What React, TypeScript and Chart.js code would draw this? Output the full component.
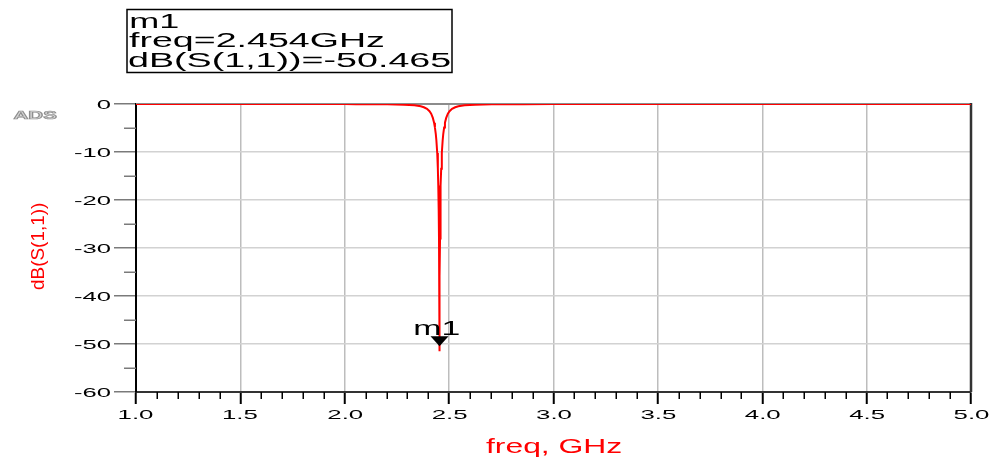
import React, { useEffect, useRef } from "react";
import { Chart, registerables } from "chart.js";

Chart.register(...registerables);

// ---- data ----
const freqGHz = [
  1.0, 1.5, 2.0, 2.054, 2.204, 2.284, 2.334, 2.364, 2.379, 2.394, 2.406, 2.414,
  2.422, 2.428, 2.432, 2.436, 2.439, 2.443, 2.446, 2.448, 2.45, 2.4515, 2.4528,
  2.454, 2.4552, 2.4565, 2.458, 2.46, 2.462, 2.465, 2.469, 2.472, 2.476, 2.48,
  2.486, 2.494, 2.502, 2.514, 2.529, 2.544, 2.574, 2.624, 2.704, 2.854, 3.0,
  3.5, 4.0, 4.5, 5.0,
];
const s11dB = [
  -0.004, -0.006, -0.015, -0.03, -0.07, -0.15, -0.28, -0.48, -0.68, -1.0, -1.5,
  -2.0, -2.9, -3.9, -4.9, -6.2, -7.6, -10.2, -13.5, -17, -22, -28, -36, -51.5,
  -36, -28, -22, -17, -13.5, -10.2, -7.6, -6.2, -4.9, -3.9, -2.9, -2.0, -1.5,
  -1.0, -0.68, -0.48, -0.28, -0.15, -0.07, -0.03, -0.015, -0.008, -0.005,
  -0.004, -0.003,
];

const xTickValues = [1.0, 1.5, 2.0, 2.5, 3.0, 3.5, 4.0, 4.5, 5.0];
const xTickLabels = ["1.0", "1.5", "2.0", "2.5", "3.0", "3.5", "4.0", "4.5", "5.0"];
const xMinorTickValues = [
  1.1, 1.2, 1.3, 1.4, 1.6, 1.7, 1.8, 1.9, 2.1, 2.2, 2.3, 2.4, 2.6, 2.7, 2.8,
  2.9, 3.1, 3.2, 3.3, 3.4, 3.6, 3.7, 3.8, 3.9, 4.1, 4.2, 4.3, 4.4, 4.6, 4.7,
  4.8, 4.9,
];
const yTickValues = [0, -10, -20, -30, -40, -50, -60];
const yTickLabels = ["0", "-10", "-20", "-30", "-40", "-50", "-60"];
const yMinorTickValues = [-5, -15, -25, -35, -45, -55];

const xTitle = "freq, GHz";
const yTitle = "dB(S(1,1))";
const markerName = "m1";
const markerFreq = 2.454;
const markerDb = -50.465;
const brandLabel = "ADS";

// ---- helpers ----
const FONT = '"Liberation Sans", Arial, Helvetica, sans-serif';

function drawInk(
  ctx: CanvasRenderingContext2D,
  text: string,
  x: number,
  y: number,
  size: number,
  anchor: "left" | "right" | "center",
  color: string,
  opts: { width?: number; sx?: number; weight?: string; stroke?: string; strokeWidth?: number } = {}
) {
  ctx.save();
  ctx.font = `${opts.weight ?? "normal"} ${size}px ${FONT}`;
  ctx.textAlign = "left";
  ctx.textBaseline = "alphabetic";
  const m = ctx.measureText(text);
  const L = m.actualBoundingBoxLeft;
  const R = m.actualBoundingBoxRight;
  const ink = L + R;
  const sx = opts.width ? opts.width / ink : opts.sx ?? 1;
  ctx.translate(x, y);
  ctx.scale(sx, 1);
  let ox: number;
  if (anchor === "left") ox = L;
  else if (anchor === "right") ox = -R;
  else ox = -(R - L) / 2;
  ctx.fillStyle = color;
  ctx.fillText(text, ox, 0);
  if (opts.stroke) {
    ctx.strokeStyle = opts.stroke;
    ctx.lineWidth = opts.strokeWidth ?? 1;
    ctx.strokeText(text, ox, 0);
  }
  ctx.restore();
}

function inkWidth(ctx: CanvasRenderingContext2D, text: string, size: number) {
  ctx.save();
  ctx.font = `normal ${size}px ${FONT}`;
  const m = ctx.measureText(text);
  ctx.restore();
  return m.actualBoundingBoxLeft + m.actualBoundingBoxRight;
}

const decorPlugin = {
  id: "adsDecor",
  beforeDatasetsDraw(chart: any) {
    const { ctx, chartArea: a, scales } = chart;
    ctx.save();
    // top border
    ctx.strokeStyle = "#8c8c8c";
    ctx.lineWidth = 2;
    ctx.beginPath();
    ctx.moveTo(a.left, a.top);
    ctx.lineTo(a.right, a.top);
    ctx.stroke();
    // right border
    ctx.strokeStyle = "#333333";
    ctx.lineWidth = 2.5;
    ctx.beginPath();
    ctx.moveTo(a.right, a.top - 1);
    ctx.lineTo(a.right, a.bottom);
    ctx.stroke();
    // minor ticks x
    ctx.strokeStyle = "#000";
    ctx.lineWidth = 1.5;
    for (const v of xMinorTickValues) {
      const px = Math.round(scales.x.getPixelForValue(v)) + 0.25;
      ctx.beginPath();
      ctx.moveTo(px, a.bottom);
      ctx.lineTo(px, a.bottom + 7);
      ctx.stroke();
    }
    // minor ticks y
    ctx.strokeStyle = "#7a7a7a";
    for (const v of yMinorTickValues) {
      const py = Math.round(scales.y.getPixelForValue(v)) + 0.25;
      ctx.beginPath();
      ctx.moveTo(a.left - 12, py);
      ctx.lineTo(a.left, py);
      ctx.stroke();
    }
    ctx.restore();
  },
  afterDatasetsDraw(chart: any) {
    const { ctx, scales } = chart;
    const px = scales.x.getPixelForValue(markerFreq);
    const py = scales.y.getPixelForValue(markerDb);
    ctx.save();
    ctx.fillStyle = "#000";
    ctx.beginPath();
    ctx.moveTo(px, py);
    ctx.lineTo(px - 9, py - 10);
    ctx.lineTo(px + 9, py - 10);
    ctx.closePath();
    ctx.fill();
    ctx.restore();
    drawInk(ctx, markerName, px - 2, py - 11, 20, "center", "#000", { width: 45 });
  },
  afterDraw(chart: any) {
    const { ctx, chartArea: a, scales } = chart;
    // x tick labels
    const sxX = 33 / inkWidth(ctx, "1.0", 13.5);
    xTickValues.forEach((v, i) => {
      const px = scales.x.getPixelForValue(v);
      drawInk(ctx, xTickLabels[i], px, a.bottom + 27, 13.5, "center", "#000", { sx: sxX });
    });
    // y tick labels
    const sxY = 36 / inkWidth(ctx, "-10", 13.5);
    yTickValues.forEach((v, i) => {
      const py = scales.y.getPixelForValue(v);
      drawInk(ctx, yTickLabels[i], a.left - 26, py + 4.8, 13.5, "right", "#000", { sx: sxY });
    });
    // axis titles
    drawInk(ctx, xTitle, 553.5, 453, 19.5, "center", "#ff0000", { width: 135 });
    ctx.save();
    ctx.translate(44, 246.5);
    ctx.rotate(-Math.PI / 2);
    drawInk(ctx, yTitle, 0, 0, 19, "center", "#ff0000", { width: 87 });
    ctx.restore();
    // ADS brand
    drawInk(ctx, brandLabel, 13.5, 118.5, 10, "left", "#d4d4d4", {
      width: 44,
      weight: "bold",
      stroke: "#8e8e8e",
      strokeWidth: 0.7,
    });
    // marker readout box
    ctx.save();
    ctx.strokeStyle = "#000";
    ctx.lineWidth = 1.5;
    ctx.strokeRect(127, 9.5, 325, 63);
    ctx.restore();
    drawInk(ctx, markerName, 131, 28, 20, "left", "#000", { width: 48 });
    drawInk(ctx, `freq=${markerFreq}GHz`, 129, 47, 20, "left", "#000", { width: 254 });
    drawInk(ctx, `${yTitle}=${markerDb}`, 128, 66.5, 20, "left", "#000", { width: 323 });
  },
};

export default function App() {
  const canvasRef = useRef<HTMLCanvasElement | null>(null);

  useEffect(() => {
    const canvas = canvasRef.current;
    if (!canvas) return;
    const chart = new Chart(canvas, {
      type: "line",
      data: {
        datasets: [
          {
            data: freqGHz.map((f, i) => ({ x: f, y: s11dB[i] })),
            borderColor: "#ff0000",
            borderWidth: 2,
            pointRadius: 0,
            tension: 0,
            fill: false,
          },
        ],
      },
      options: {
        responsive: false,
        animation: false,
        devicePixelRatio: 1,
        layout: { padding: { left: 0, top: 104, right: 20, bottom: 0 } },
        plugins: { legend: { display: false }, tooltip: { enabled: false } },
        scales: {
          x: {
            type: "linear",
            min: 1,
            max: 5,
            afterBuildTicks: (s: any) => {
              s.ticks = xTickValues.map((v) => ({ value: v }));
            },
            afterFit: (s: any) => {
              s.height = 67;
            },
            ticks: { display: false },
            grid: {
              color: "#bdbdbd",
              lineWidth: 1.5,
              drawTicks: true,
              tickLength: 12,
              tickColor: "#000",
              tickWidth: 2,
            },
            border: { display: true, color: "#333", width: 2 },
          },
          y: {
            type: "linear",
            min: -60,
            max: 0,
            afterBuildTicks: (s: any) => {
              s.ticks = yTickValues.map((v) => ({ value: v }));
            },
            afterFit: (s: any) => {
              s.width = 136;
            },
            ticks: { display: false },
            grid: {
              color: "#d2d2d2",
              lineWidth: 1.5,
              drawTicks: true,
              tickLength: 22,
              tickColor: "#7a7a7a",
              tickWidth: 1.5,
            },
            border: { display: true, color: "#000", width: 2 },
          },
        },
      } as any,
      plugins: [decorPlugin],
    });
    return () => chart.destroy();
  }, []);

  return (
    <div style={{ position: "absolute", left: 0, top: 0, width: 991, height: 459, background: "#fff" }}>
      <canvas ref={canvasRef} width={991} height={459} style={{ display: "block" }} />
    </div>
  );
}
